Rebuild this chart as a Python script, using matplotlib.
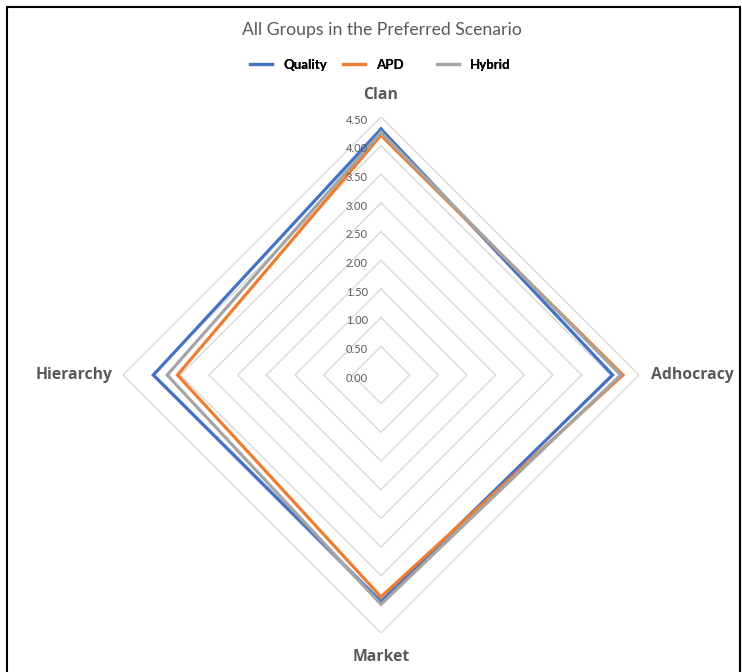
import numpy as np
import matplotlib
matplotlib.use("Agg")
import matplotlib.pyplot as plt
import matplotlib.transforms as mtransforms
from matplotlib.patches import Rectangle

categories = ["Clan", "Adhocracy", "Market", "Hierarchy"]
quality = [4.29, 4.04, 3.95, 3.97]
apd = [4.18, 4.22, 3.87, 3.55]
hybrid = [4.23, 4.18, 4.00, 3.73]
series_names = ["Quality", "APD", "Hybrid"]
colors = ["#4472C4", "#ED7D31", "#A5A5A5"]
grid_levels = [0.0, 0.5, 1.0, 1.5, 2.0, 2.5, 3.0, 3.5, 4.0, 4.5]
tick_labels = ["0.00", "0.50", "1.00", "1.50", "2.00", "2.50", "3.00", "3.50", "4.00", "4.50"]

plt.rcParams['font.family'] = ['Lato', 'DejaVu Sans']

W, H = 742, 672
fig = plt.figure(figsize=(W / 100, H / 100), dpi=100)
cx, cy, R = 381, 375, 258
ax = fig.add_axes([(cx - R) / W, (H - cy - R) / H, 2 * R / W, 2 * R / H], projection='polar')
ax.set_theta_offset(np.pi / 2)
ax.set_theta_direction(-1)
ax.set_ylim(0, 4.5)
ax.grid(False)
ax.spines['polar'].set_visible(False)
ax.set_xticks([])
ax.set_yticks([])
ax.patch.set_alpha(0)

n = len(categories)
angles = np.arange(n) * 2 * np.pi / n
closed = np.concatenate([angles, angles[:1]])

for lv in grid_levels[1:]:
    ax.plot(closed, [lv] * (n + 1), color="#D9D9D9", lw=1.0, zorder=1)

handles = []
for vals, c, name in zip([quality, apd, hybrid], colors, series_names):
    v = list(vals) + [vals[0]]
    h, = ax.plot(closed, v, color=c, lw=2.3, label=name, zorder=3,
                 solid_joinstyle='miter')
    handles.append(h)

for lv, lab in zip(grid_levels, tick_labels):
    tr = mtransforms.offset_copy(ax.transData, fig=fig, x=-13, y=-3, units='dots')
    ax.text(0, lv, lab, transform=tr, ha='right', va='center', fontsize=8,
            color="#595959", zorder=4)

label_offsets = [(0, 22, 'center', 'center'), (12, 0, 'left', 'center'),
                 (0, -24, 'center', 'center'), (-10, 0, 'right', 'center')]
for ang, cat, (dx, dy, ha, va) in zip(angles, categories, label_offsets):
    tr = mtransforms.offset_copy(ax.transData, fig=fig, x=dx, y=dy, units='dots')
    ax.text(ang, 4.5, cat, transform=tr, ha=ha, va=va, fontsize=11.3,
            fontweight='bold', color="#595959", family=['Open Sans', 'DejaVu Sans'])

fig.text(382 / W, 1 - 30 / H, "All Groups in the Preferred Scenario",
         ha='center', va='center', fontsize=12.7, color="#595959")

legend_x = [250, 343, 437]
for h, x in zip(handles, legend_x):
    leg = fig.legend(handles=[h], labels=[h.get_label()], loc='center left',
                     bbox_to_anchor=(x / W, 1 - 65 / H), frameon=False,
                     prop={'weight': 'bold', 'size': 9.5}, borderpad=0,
                     borderaxespad=0, handlelength=1.67, handletextpad=0.85)
    fig.add_artist(leg)

fig.patches.append(Rectangle((7 / W, -0.01), (740 - 7) / W, 1 - 7 / H + 0.01,
                             transform=fig.transFigure, fill=False,
                             edgecolor='black', lw=1.5))

fig.savefig("out.png", dpi=100)
